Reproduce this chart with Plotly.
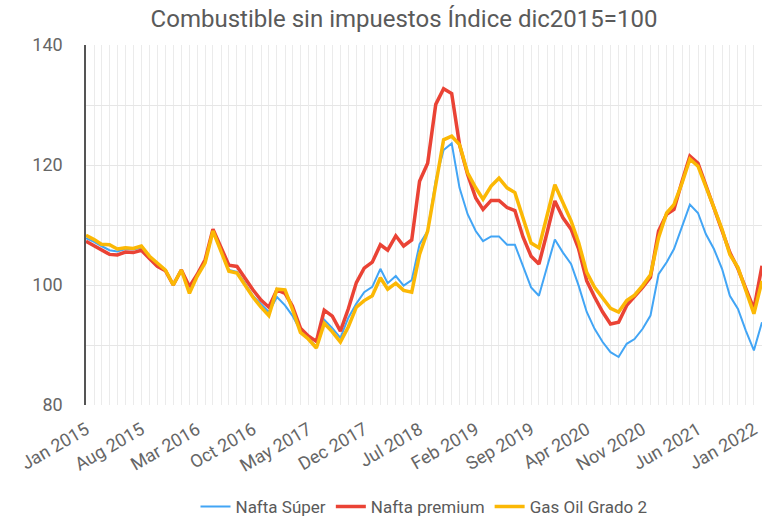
import pandas as pd
import plotly.graph_objects as go

months = pd.date_range("2015-01-01", periods=86, freq="MS")

nafta_super = [107.8, 107.2, 106.5, 105.8, 105.6, 106.0, 105.9, 106.2, 104.6, 103.5,
               102.4, 100.0, 102.5, 99.0, 101.5, 103.8, 109.0, 105.8, 102.5, 102.2,
               100.3, 98.2, 96.9, 95.5, 98.0, 96.6, 94.9, 92.4, 91.0, 89.8,
               94.2, 92.8, 91.2, 94.5, 96.9, 98.8, 99.7, 102.7, 100.3, 101.5,
               99.9, 100.8, 106.8, 109.0, 117.5, 122.5, 123.6, 116.2, 111.8, 109.0,
               107.3, 108.1, 108.1, 106.7, 106.7, 103.0, 99.6, 98.2, 103.2, 107.6,
               105.4, 103.5, 99.9, 95.5, 92.7, 90.5, 88.8, 88.0, 90.2, 91.0,
               92.7, 94.9, 101.8, 103.8, 106.0, 109.6, 113.4, 112.0, 108.5, 106.0,
               102.7, 98.2, 96.0, 92.4, 89.1, 93.8]

nafta_premium = [107.3, 106.5, 105.9, 105.1, 105.0, 105.5, 105.4, 105.8, 104.4, 103.1,
                 102.4, 100.0, 102.5, 99.7, 101.7, 104.2, 109.3, 106.2, 103.3, 103.1,
                 101.1, 99.2, 97.5, 96.3, 99.2, 98.6, 96.5, 92.8, 91.5, 90.6,
                 95.8, 94.8, 92.3, 96.0, 100.4, 102.8, 103.8, 106.7, 105.8, 108.2,
                 106.5, 107.5, 117.3, 120.3, 130.1, 132.7, 131.9, 123.4, 118.4, 114.5,
                 112.6, 114.1, 114.1, 112.9, 112.4, 108.0, 104.8, 103.5, 108.7, 114.0,
                 111.2, 109.3, 106.0, 100.7, 98.0, 95.5, 93.5, 93.8, 96.6, 98.0,
                 99.6, 101.3, 109.0, 111.8, 112.6, 117.3, 121.5, 120.3, 116.7, 113.1,
                 109.3, 105.4, 102.7, 99.3, 96.0, 103.2]

gas_oil = [108.3, 107.6, 106.8, 106.7, 106.0, 106.2, 106.1, 106.5, 104.8, 103.7,
           102.5, 100.0, 102.5, 98.6, 101.4, 103.7, 109.0, 105.6, 102.3, 102.0,
           100.0, 98.0, 96.3, 94.9, 99.3, 99.2, 96.0, 92.1, 91.0, 89.5,
           93.6, 92.2, 90.5, 93.0, 96.3, 97.4, 98.2, 101.2, 99.3, 100.3,
           99.1, 98.8, 105.1, 109.0, 116.7, 124.2, 124.8, 123.4, 118.7, 116.2,
           114.3, 116.5, 117.8, 116.2, 115.4, 111.3, 107.0, 106.2, 111.5, 116.7,
           113.7, 110.7, 107.1, 102.1, 99.6, 97.7, 96.1, 95.5, 97.4, 98.3,
           99.9, 101.7, 107.9, 112.0, 113.4, 117.0, 121.0, 119.8, 116.2, 112.9,
           109.3, 105.1, 102.9, 99.3, 95.2, 100.7]

series_names = ["Nafta Súper", "Nafta premium", "Gas Oil Grado 2"]
colors = ["#42a5f5", "#ea4335", "#fbb805"]
widths = [2, 3.5, 3.5]

fig = go.Figure()
for name, vals, c, w in zip(series_names, [nafta_super, nafta_premium, gas_oil], colors, widths):
    fig.add_trace(go.Scatter(x=months, y=vals, mode="lines", name=name,
                             line=dict(color=c, width=w)))

grid = "#ebebeb"
fig.update_layout(
    width=762, height=517,
    margin=dict(l=86, r=0, t=45, b=112, autoexpand=False),
    paper_bgcolor="white", plot_bgcolor="white",
    font=dict(family="Roboto", color="#666666"),
    title=dict(text="Combustible sin impuestos Índice dic2015=100",
               x=404 / 762, xanchor="center", y=1 - 19 / 517, yanchor="middle",
               font=dict(size=24, color="#5a5a5a")),
    showlegend=True,
    legend=dict(orientation="h", x=0.5, xanchor="center", y=-(507 - 405) / 360,
                yanchor="middle", font=dict(size=17, color="#5a5a5a")),
)
fig.update_xaxes(
    type="date", range=["2015-01-01", "2022-02-01"], automargin=False,
    tick0="2015-01-01", dtick="M7", tickformat="%b %Y", tickangle=-30,
    tickfont=dict(size=18, color="#666666"), ticklabelstandoff=10,
    showgrid=True, gridcolor=grid, gridwidth=1, ticks="",
    minor=dict(dtick="M1", tick0="2015-01-01", showgrid=True, gridcolor=grid, gridwidth=1),
    showline=False, zeroline=False,
)
fig.update_yaxes(
    range=[80, 140], dtick=20, tick0=80, automargin=False,
    tickfont=dict(size=18, color="#666666"),
    showgrid=True, gridcolor="#e6e6e6", gridwidth=1, ticks="",
    ticklabelstandoff=18,
    minor=dict(dtick=10, tick0=80, showgrid=True, gridcolor="#e6e6e6", gridwidth=1),
    showline=True, linecolor="#555555", linewidth=1.5, zeroline=False,
)

fig.write_html("out.html", config={"displayModeBar": False},
               post_script="document.body.style.margin='0';document.body.style.overflow='hidden';")
